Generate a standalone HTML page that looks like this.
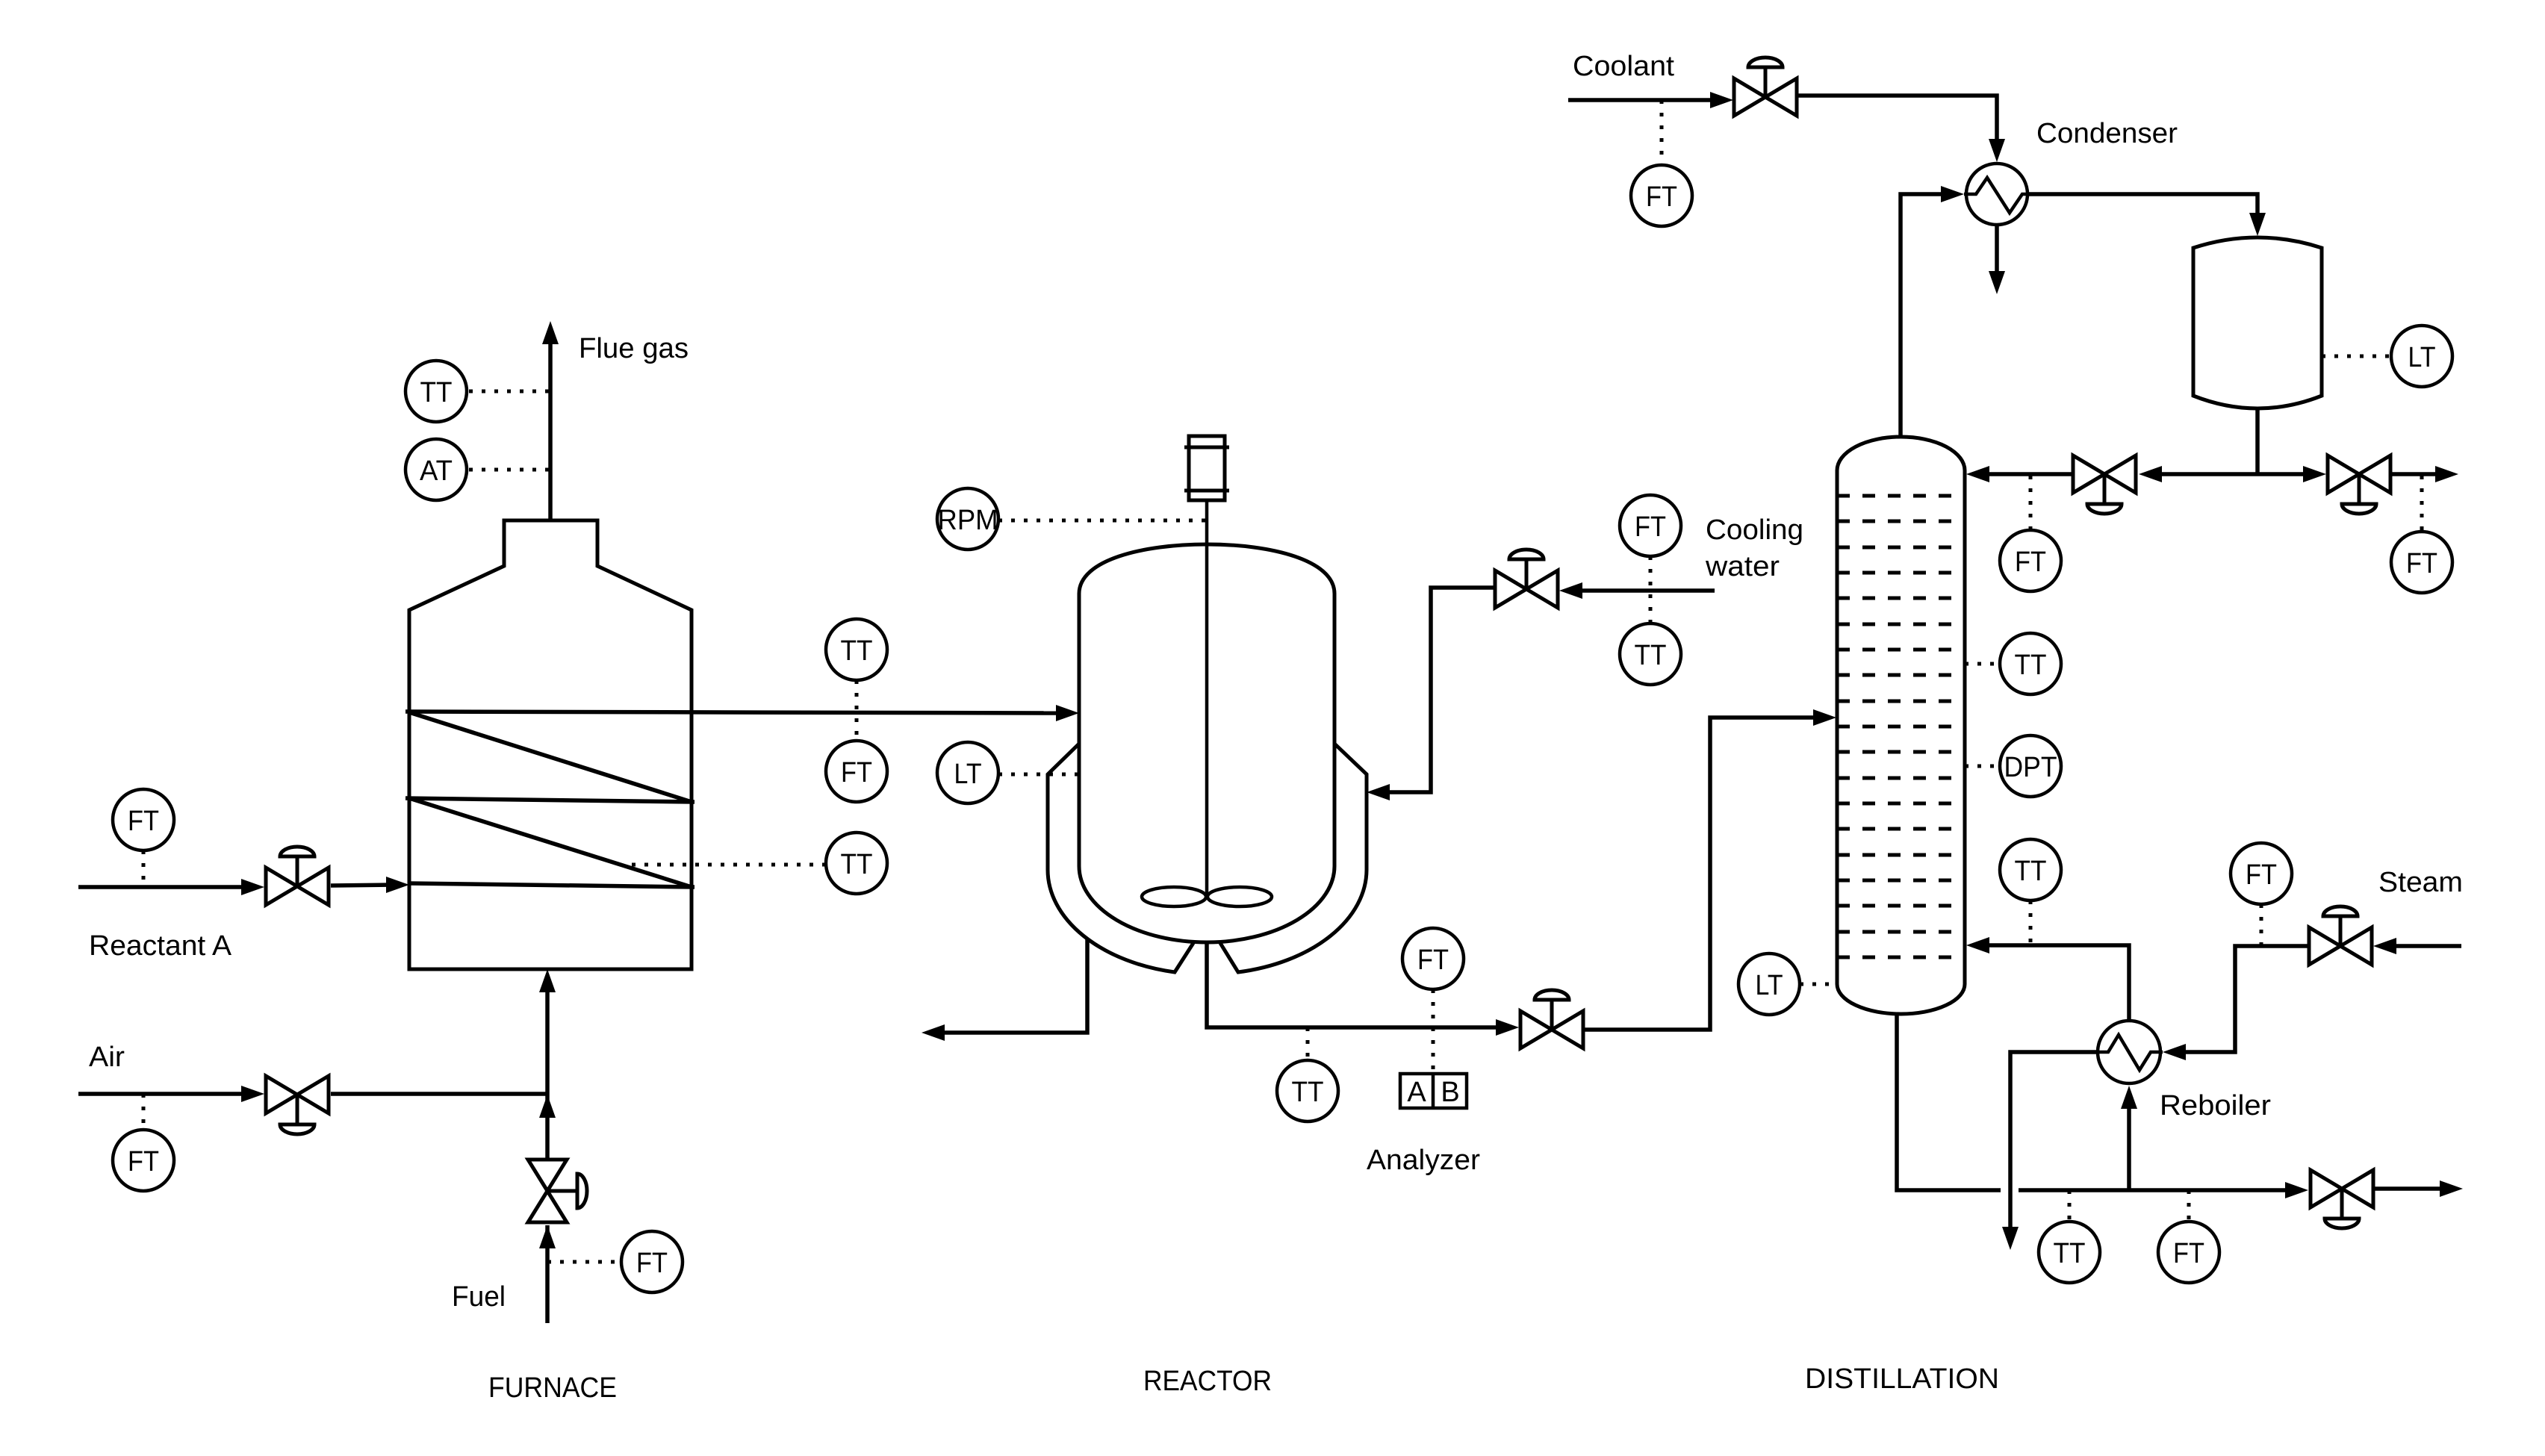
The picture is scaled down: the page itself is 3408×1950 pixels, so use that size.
<!DOCTYPE html>
<html><head><meta charset="utf-8"><style>
html,body{margin:0;padding:0;background:#fff;}
svg{display:block;}
text{font-family:"Liberation Sans",sans-serif;font-size:38px;fill:#000;}
</style></head><body>
<svg width="3408" height="1950" viewBox="0 0 3408 1950" xmlns="http://www.w3.org/2000/svg">
<rect width="3408" height="1950" fill="#fff"/>

<!-- PIPES -->
<g fill="none" stroke="#000" stroke-width="5.5" stroke-linejoin="miter">
  <!-- furnace -->
  <path d="M737,697 V445"/>
  <path d="M105,1188 H330"/>
  <path d="M443,1186 L525,1185"/>
  <path d="M543,953 L1420,955"/>
  <path d="M548,954 L926,1074"/>
  <path d="M543,1069 L930,1074"/>
  <path d="M548,1069 L926,1188"/>
  <path d="M548,1183 L930,1188"/>
  <path d="M105,1465 H330"/>
  <path d="M443,1465 H733"/>
  <path d="M733,1772 V1641"/>
  <path d="M733,1552 V1310"/>
  <!-- reactor -->
  <path d="M1456,1258 V1383 H1260"/>
  <path d="M1616,1262 V1376 H2010"/>
  <path d="M2122,1379 H2290 V961 H2435"/>
  <path d="M2296,791 H2110"/>
  <path d="M2002,787 H1916 V1061 H1855"/>
  <!-- distillation -->
  <path d="M2100,134 H2300"/>
  <path d="M2406,128 H2674 V195"/>
  <path d="M2545,585 V260 H2605"/>
  <path d="M2674,302 V370"/>
  <path d="M2717,260 H3023 V295"/>
  <path d="M3023,547 V635"/>
  <path d="M2890,635 H3090"/>
  <path d="M2776,635 H2660"/>
  <path d="M3202,635 H3270"/>
  <path d="M2851,1366 V1266 H2660"/>
  <path d="M2540,1358 V1594 H2679"/>
  <path d="M2703,1594 H3065"/>
  <path d="M2851,1594 V1478"/>
  <path d="M3180,1592 H3275"/>
  <path d="M2809,1409 H2692 V1650"/>
  <path d="M3296,1267 H3200"/>
  <path d="M3090,1267 H2993 V1409 H2920"/>
</g>

<!-- ARROWHEADS -->
<g fill="#000" stroke="none">
  <polygon points="737,430 726,461 748,461"/>
  <polygon points="354,1188 323,1177 323,1199"/>
  <polygon points="548,1185 517,1174 517,1196"/>
  <polygon points="1445,955 1414,944 1414,966"/>
  <polygon points="354,1465 323,1454 323,1476"/>
  <polygon points="733,1298 722,1329 744,1329"/>
  <polygon points="733,1466 722,1497 744,1497"/>
  <polygon points="733,1641 722,1672 744,1672"/>
  <polygon points="1234,1383 1265,1372 1265,1394"/>
  <polygon points="2034,1376 2003,1365 2003,1387"/>
  <polygon points="2459,961 2428,950 2428,972"/>
  <polygon points="2088,791 2119,780 2119,802"/>
  <polygon points="1830,1061 1861,1050 1861,1072"/>
  <polygon points="2321,134 2290,123 2290,145"/>
  <polygon points="2674,217 2663,186 2685,186"/>
  <polygon points="2630,260 2599,249 2599,271"/>
  <polygon points="2674,394 2663,363 2685,363"/>
  <polygon points="3023,316 3012,285 3034,285"/>
  <polygon points="2864,635 2895,624 2895,646"/>
  <polygon points="3115,635 3084,624 3084,646"/>
  <polygon points="2633,635 2664,624 2664,646"/>
  <polygon points="3292,635 3261,624 3261,646"/>
  <polygon points="2633,1266 2664,1255 2664,1277"/>
  <polygon points="3091,1594 3060,1583 3060,1605"/>
  <polygon points="2851,1454 2840,1485 2862,1485"/>
  <polygon points="3298,1592 3267,1581 3267,1603"/>
  <polygon points="2692,1674 2681,1643 2703,1643"/>
  <polygon points="3178,1267 3209,1256 3209,1278"/>
  <polygon points="2896,1409 2927,1398 2927,1420"/>
</g>

<!-- EQUIPMENT -->
<g fill="none" stroke="#000" stroke-width="5" stroke-linejoin="miter">
  <!-- furnace -->
  <path d="M548,1298 V817 L675,758 V697 H800 V758 L926,817 V1298 Z"/>
  <!-- reactor motor -->
  <rect x="1592" y="584" width="48" height="86"/>
  <path d="M1586,599 H1646 M1586,657 H1646"/>
  <path d="M1616,670 V1201" stroke-width="4.5"/>
  <!-- reactor vessel -->
  <path d="M1445,1160 V795 C1445,750 1530,729 1616,729 C1702,729 1787,750 1787,795 V1160 A171 102 0 0 1 1445,1160"/>
  <!-- jacket -->
  <path d="M1445,996 L1403,1037 V1165 A213 140 0 0 0 1573,1302 L1598,1263"/>
  <path d="M1787,996 L1830,1037 V1165 A213 140 0 0 1 1658,1302 L1634,1263"/>
  <!-- impeller -->
  <ellipse cx="1572" cy="1201" rx="43" ry="13" stroke-width="4.5"/>
  <ellipse cx="1660" cy="1201" rx="43" ry="13" stroke-width="4.5"/>
  <!-- analyzer box -->
  <rect x="1875" y="1438" width="89" height="46" stroke-width="4.5"/>
  <path d="M1919,1438 V1484" stroke-width="4.5"/>
  <!-- column -->
  <path d="M2460,630 A85.5 45 0 0 1 2631,630 V1318 A85.5 40 0 0 1 2460,1318 Z"/>
  <!-- drum -->
  <path d="M2937,332 Q3023,304 3109,332 V530 Q3023,564 2937,530 Z"/>
  <!-- condenser -->
  <circle cx="2674" cy="260" r="41" stroke-width="4.5"/>
  <polyline points="2630,260 2646,260 2661,238 2691,285 2708,260 2717,260" stroke-width="4.5"/>
  <!-- reboiler -->
  <circle cx="2851" cy="1409" r="42" stroke-width="4.5"/>
  <polyline points="2807,1409 2823,1409 2837,1386 2865,1433 2880,1409 2896,1409" stroke-width="4.5"/>
</g>

<!-- TRAYS -->
<g fill="none" stroke="#000" stroke-width="5">
  <path d="M2460,664 H2477 M2494,664 H2511 M2528,664 H2545 M2562,664 H2579 M2596,664 H2613
           M2460,698 H2477 M2494,698 H2511 M2528,698 H2545 M2562,698 H2579 M2596,698 H2613
           M2460,733 H2477 M2494,733 H2511 M2528,733 H2545 M2562,733 H2579 M2596,733 H2613
           M2460,767 H2477 M2494,767 H2511 M2528,767 H2545 M2562,767 H2579 M2596,767 H2613
           M2460,801 H2477 M2494,801 H2511 M2528,801 H2545 M2562,801 H2579 M2596,801 H2613
           M2460,836 H2477 M2494,836 H2511 M2528,836 H2545 M2562,836 H2579 M2596,836 H2613
           M2460,870 H2477 M2494,870 H2511 M2528,870 H2545 M2562,870 H2579 M2596,870 H2613
           M2460,904 H2477 M2494,904 H2511 M2528,904 H2545 M2562,904 H2579 M2596,904 H2613
           M2460,939 H2477 M2494,939 H2511 M2528,939 H2545 M2562,939 H2579 M2596,939 H2613
           M2460,973 H2477 M2494,973 H2511 M2528,973 H2545 M2562,973 H2579 M2596,973 H2613
           M2460,1007 H2477 M2494,1007 H2511 M2528,1007 H2545 M2562,1007 H2579 M2596,1007 H2613
           M2460,1042 H2477 M2494,1042 H2511 M2528,1042 H2545 M2562,1042 H2579 M2596,1042 H2613
           M2460,1076 H2477 M2494,1076 H2511 M2528,1076 H2545 M2562,1076 H2579 M2596,1076 H2613
           M2460,1110 H2477 M2494,1110 H2511 M2528,1110 H2545 M2562,1110 H2579 M2596,1110 H2613
           M2460,1145 H2477 M2494,1145 H2511 M2528,1145 H2545 M2562,1145 H2579 M2596,1145 H2613
           M2460,1179 H2477 M2494,1179 H2511 M2528,1179 H2545 M2562,1179 H2579 M2596,1179 H2613
           M2460,1213 H2477 M2494,1213 H2511 M2528,1213 H2545 M2562,1213 H2579 M2596,1213 H2613
           M2460,1248 H2477 M2494,1248 H2511 M2528,1248 H2545 M2562,1248 H2579 M2596,1248 H2613
           M2460,1282 H2477 M2494,1282 H2511 M2528,1282 H2545 M2562,1282 H2579 M2596,1282 H2613"/>
</g>

<!-- VALVES -->
<g fill="#fff" stroke="#000" stroke-width="5" stroke-linejoin="miter">
  <!-- V1 reactant A, actuator up -->
  <polygon points="356,1162 356,1212 398,1187"/><polygon points="440,1162 440,1212 398,1187"/>
  <path d="M398,1187 V1147" fill="none"/><path d="M375,1147 A23 13 0 0 1 421,1147 Z"/>
  <!-- V2 air, actuator down -->
  <polygon points="356,1441 356,1491 398,1466"/><polygon points="440,1441 440,1491 398,1466"/>
  <path d="M398,1466 V1506" fill="none"/><path d="M375,1506 A23 13 0 0 0 421,1506 Z"/>
  <!-- V3 fuel vertical -->
  <polygon points="707,1553 759,1553 733,1595"/><polygon points="707,1637 759,1637 733,1595"/>
  <path d="M733,1595 H773" fill="none"/><path d="M773,1572 A13 23 0 0 1 773,1618 Z"/>
  <!-- V4 cooling water -->
  <polygon points="2002,764 2002,814 2044,789"/><polygon points="2086,764 2086,814 2044,789"/>
  <path d="M2044,789 V749" fill="none"/><path d="M2021,749 A23 13 0 0 1 2067,749 Z"/>
  <!-- V5 reactor outlet -->
  <polygon points="2036,1354 2036,1404 2078,1379"/><polygon points="2120,1354 2120,1404 2078,1379"/>
  <path d="M2078,1379 V1339" fill="none"/><path d="M2055,1339 A23 13 0 0 1 2101,1339 Z"/>
  <!-- V6 coolant -->
  <polygon points="2322,105 2322,155 2364,130"/><polygon points="2406,105 2406,155 2364,130"/>
  <path d="M2364,130 V90" fill="none"/><path d="M2341,90 A23 13 0 0 1 2387,90 Z"/>
  <!-- V7 reflux -->
  <polygon points="2776,610 2776,660 2818,635"/><polygon points="2860,610 2860,660 2818,635"/>
  <path d="M2818,635 V675" fill="none"/><path d="M2795,675 A23 13 0 0 0 2841,675 Z"/>
  <!-- V8 distillate -->
  <polygon points="3117,610 3117,660 3159,635"/><polygon points="3201,610 3201,660 3159,635"/>
  <path d="M3159,635 V675" fill="none"/><path d="M3136,675 A23 13 0 0 0 3182,675 Z"/>
  <!-- V9 steam -->
  <polygon points="3092,1242 3092,1292 3134,1267"/><polygon points="3176,1242 3176,1292 3134,1267"/>
  <path d="M3134,1267 V1227" fill="none"/><path d="M3111,1227 A23 13 0 0 1 3157,1227 Z"/>
  <!-- V10 bottoms -->
  <polygon points="3094,1567 3094,1617 3136,1592"/><polygon points="3178,1567 3178,1617 3136,1592"/>
  <path d="M3136,1592 V1632" fill="none"/><path d="M3113,1632 A23 13 0 0 0 3159,1632 Z"/>
</g>

<!-- DOTTED SIGNAL LINES -->
<g fill="none" stroke="#000" stroke-width="5" stroke-dasharray="5 12">
  <path d="M628,524 H737"/>
  <path d="M628,629 H737"/>
  <path d="M192,1139 V1188"/>
  <path d="M192,1465 V1513"/>
  <path d="M733,1690 H832"/>
  <path d="M1147,911 V992"/>
  <path d="M846,1158 H1106"/>
  <path d="M1337,697 H1616"/>
  <path d="M1337,1037 H1445"/>
  <path d="M2210,745 V835"/>
  <path d="M1751,1376 V1420"/>
  <path d="M1919,1325 V1438"/>
  <path d="M2410,1318 H2459"/>
  <path d="M2225,134 V221"/>
  <path d="M3109,477 H3202"/>
  <path d="M2719,637 V710"/>
  <path d="M3243,637 V712"/>
  <path d="M2631,889 H2678"/>
  <path d="M2631,1026 H2678"/>
  <path d="M2719,1206 V1266"/>
  <path d="M3028,1211 V1267"/>
  <path d="M2771,1594 V1636"/>
  <path d="M2931,1594 V1636"/>
</g>

<!-- INSTRUMENT CIRCLES -->
<g fill="none" stroke="#000" stroke-width="4.5">
  <circle cx="584" cy="524" r="41"/>
  <circle cx="584" cy="629" r="41"/>
  <circle cx="192" cy="1098" r="41"/>
  <circle cx="192" cy="1554" r="41"/>
  <circle cx="873" cy="1690" r="41"/>
  <circle cx="1147" cy="870" r="41"/>
  <circle cx="1147" cy="1033" r="41"/>
  <circle cx="1147" cy="1156" r="41"/>
  <circle cx="1296" cy="695" r="41"/>
  <circle cx="1296" cy="1035" r="41"/>
  <circle cx="2210" cy="704" r="41"/>
  <circle cx="2210" cy="876" r="41"/>
  <circle cx="1751" cy="1461" r="41"/>
  <circle cx="1919" cy="1284" r="41"/>
  <circle cx="2369" cy="1318" r="41"/>
  <circle cx="2225" cy="262" r="41"/>
  <circle cx="3243" cy="477" r="41"/>
  <circle cx="2719" cy="751" r="41"/>
  <circle cx="3243" cy="753" r="41"/>
  <circle cx="2719" cy="889" r="41"/>
  <circle cx="2719" cy="1026" r="41"/>
  <circle cx="2719" cy="1165" r="41"/>
  <circle cx="3028" cy="1170" r="41"/>
  <circle cx="2771" cy="1677" r="41"/>
  <circle cx="2931" cy="1677" r="41"/>
</g>

<!-- INSTRUMENT LABELS -->
<g text-anchor="middle">
  <text x="584" y="538" textLength="43" lengthAdjust="spacingAndGlyphs">TT</text>
  <text x="584" y="643" textLength="44" lengthAdjust="spacingAndGlyphs">AT</text>
  <text x="192" y="1112" textLength="42" lengthAdjust="spacingAndGlyphs">FT</text>
  <text x="192" y="1568" textLength="42" lengthAdjust="spacingAndGlyphs">FT</text>
  <text x="873" y="1704" textLength="42" lengthAdjust="spacingAndGlyphs">FT</text>
  <text x="1147" y="884" textLength="43" lengthAdjust="spacingAndGlyphs">TT</text>
  <text x="1147" y="1047" textLength="42" lengthAdjust="spacingAndGlyphs">FT</text>
  <text x="1147" y="1170" textLength="43" lengthAdjust="spacingAndGlyphs">TT</text>
  <text x="1296" y="709" textLength="81" lengthAdjust="spacingAndGlyphs">RPM</text>
  <text x="1296" y="1049" textLength="37" lengthAdjust="spacingAndGlyphs">LT</text>
  <text x="2210" y="718" textLength="42" lengthAdjust="spacingAndGlyphs">FT</text>
  <text x="2210" y="890" textLength="43" lengthAdjust="spacingAndGlyphs">TT</text>
  <text x="1751" y="1475" textLength="43" lengthAdjust="spacingAndGlyphs">TT</text>
  <text x="1919" y="1298" textLength="42" lengthAdjust="spacingAndGlyphs">FT</text>
  <text x="2369" y="1332" textLength="37" lengthAdjust="spacingAndGlyphs">LT</text>
  <text x="2225" y="276" textLength="42" lengthAdjust="spacingAndGlyphs">FT</text>
  <text x="3243" y="491" textLength="37" lengthAdjust="spacingAndGlyphs">LT</text>
  <text x="2719" y="765" textLength="42" lengthAdjust="spacingAndGlyphs">FT</text>
  <text x="3243" y="767" textLength="42" lengthAdjust="spacingAndGlyphs">FT</text>
  <text x="2719" y="903" textLength="43" lengthAdjust="spacingAndGlyphs">TT</text>
  <text x="2719" y="1040" textLength="71" lengthAdjust="spacingAndGlyphs">DPT</text>
  <text x="2719" y="1179" textLength="43" lengthAdjust="spacingAndGlyphs">TT</text>
  <text x="3028" y="1184" textLength="42" lengthAdjust="spacingAndGlyphs">FT</text>
  <text x="2771" y="1691" textLength="43" lengthAdjust="spacingAndGlyphs">TT</text>
  <text x="2931" y="1691" textLength="42" lengthAdjust="spacingAndGlyphs">FT</text>
  <text x="1897" y="1475">A</text>
  <text x="1942" y="1475">B</text>
</g>

<!-- STREAM / SECTION LABELS -->
<g>
  <text x="775" y="479" textLength="147" lengthAdjust="spacingAndGlyphs">Flue gas</text>
  <text x="119" y="1279" textLength="191" lengthAdjust="spacingAndGlyphs">Reactant A</text>
  <text x="119" y="1428" textLength="48" lengthAdjust="spacingAndGlyphs">Air</text>
  <text x="605" y="1749" textLength="72" lengthAdjust="spacingAndGlyphs">Fuel</text>
  <text x="654" y="1871" textLength="172" lengthAdjust="spacingAndGlyphs">FURNACE</text>
  <text x="1830" y="1566" textLength="152" lengthAdjust="spacingAndGlyphs">Analyzer</text>
  <text x="1531" y="1862" textLength="172" lengthAdjust="spacingAndGlyphs">REACTOR</text>
  <text x="2284" y="722" textLength="131" lengthAdjust="spacingAndGlyphs">Cooling</text>
  <text x="2284" y="771" textLength="99" lengthAdjust="spacingAndGlyphs">water</text>
  <text x="2106" y="101" textLength="136" lengthAdjust="spacingAndGlyphs">Coolant</text>
  <text x="2727" y="191" textLength="189" lengthAdjust="spacingAndGlyphs">Condenser</text>
  <text x="3185" y="1194" textLength="113" lengthAdjust="spacingAndGlyphs">Steam</text>
  <text x="2892" y="1493" textLength="149" lengthAdjust="spacingAndGlyphs">Reboiler</text>
  <text x="2417" y="1859" textLength="260" lengthAdjust="spacingAndGlyphs">DISTILLATION</text>
</g>
</svg>
</body></html>
